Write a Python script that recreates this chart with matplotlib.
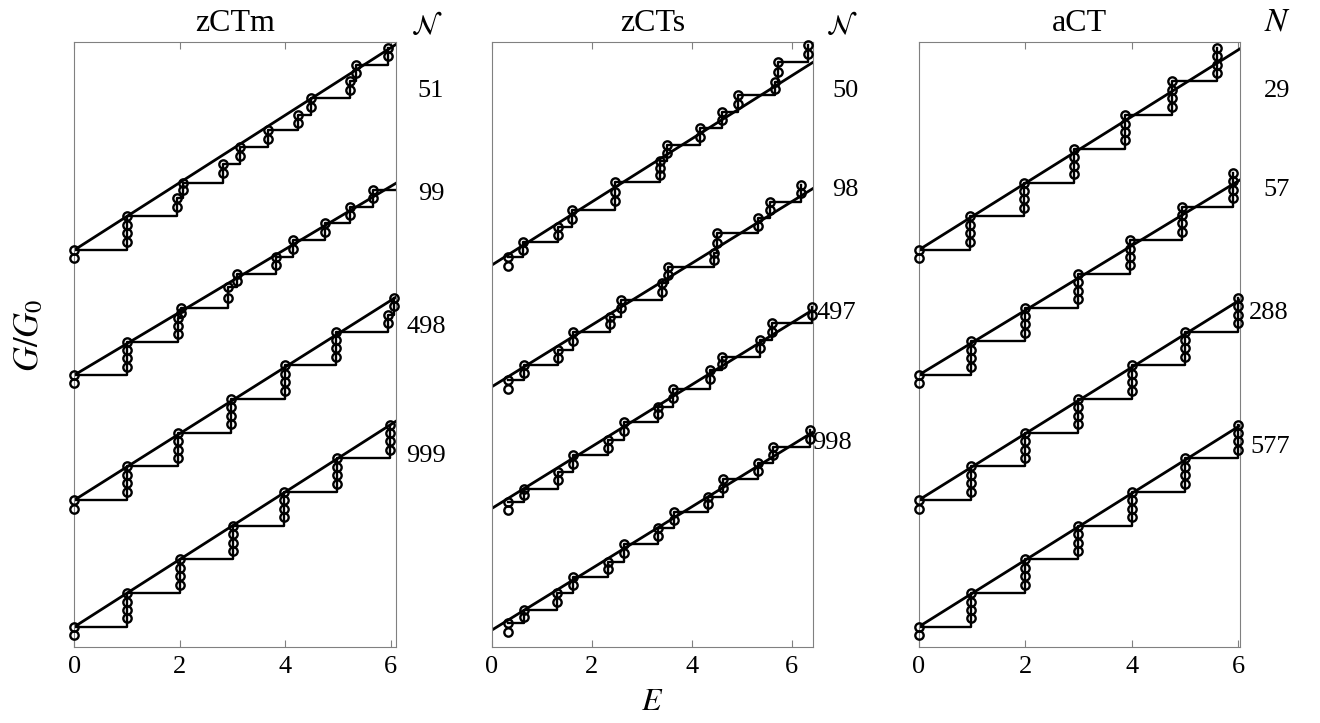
import numpy as np
import matplotlib
matplotlib.use('Agg')
import matplotlib.pyplot as plt

plt.rcParams['font.family'] = ['Liberation Serif', 'DejaVu Serif']
plt.rcParams['mathtext.fontset'] = 'stix'

# ---- data ----
titles = ['zCTm', 'zCTs', 'aCT']
n_symbols = [r'$\mathcal{N}$', r'$\mathcal{N}$', r'$N$']
xmax = [6.1, 6.43, 6.03]
g_start = [-0.5, -0.3, -0.5]          # level below the first riser

# zCTm
zctm_N = ['51', '99', '498', '999']
zctm_offset = [11.18, 7.47, 3.76, 0.0]
zctm_slope = [1.0, 0.933, 0.987, 1.0]
zctm_E = [
    [0, 0.99, 1.94, 2.06, 2.82, 3.14, 3.67, 4.24, 4.49, 5.22, 5.35, 5.95],
    [0, 0.99, 1.97, 2.03, 2.92, 3.08, 3.83, 4.15, 4.75, 5.22, 5.66],
    [0, 0.99, 1.97, 2.98, 3.99, 4.97, 5.95, 6.07],
    [0, 0.99, 2.0, 3.0, 3.98, 4.99, 5.98],
]
zctm_G = [
    [0, 1.0, 1.55, 2.0, 2.55, 3.05, 3.55, 4.0, 4.5, 5.0, 5.5, 6.0],
    [0, 0.99, 1.7, 2.0, 2.6, 3.0, 3.5, 4.0, 4.5, 5.0, 5.5],
    [0, 1.0, 2.0, 3.0, 4.0, 5.0, 5.5, 6.0],
    [0, 1.0, 2.0, 3.0, 4.0, 5.0, 6.0],
]
zctm_end = [5.95, 6.1, 6.07, 5.98]

# zCTs
zcts_N = ['50', '98', '497', '998']
zcts_offset = [10.73, 7.12, 3.51, -0.1]
zcts_slope = [0.937, 0.916, 0.918, 0.915]
zcts_E = [
    [0.33, 0.63, 1.33, 1.6, 2.47, 3.37, 3.5, 4.17, 4.6, 4.93, 5.67, 5.73, 6.33],
    [0.32, 0.65, 1.33, 1.63, 2.37, 2.59, 3.4, 3.52, 4.45, 4.5, 5.32, 5.57, 6.19],
    [0.32, 0.65, 1.32, 1.63, 2.33, 2.65, 3.33, 3.63, 4.37, 4.61, 5.37, 5.6, 6.41],
    [0.32, 0.65, 1.3, 1.63, 2.32, 2.65, 3.32, 3.65, 4.32, 4.63, 5.33, 5.63, 6.37],
]
zcts_G = [
    [0.24, 0.68, 1.13, 1.63, 2.46, 3.1, 3.56, 4.07, 4.54, 5.04, 5.43, 6.02, 6.53],
    [0.2, 0.64, 1.09, 1.63, 2.08, 2.57, 3.08, 3.56, 3.96, 4.56, 5.0, 5.49, 5.99],
    [0.2, 0.59, 1.09, 1.58, 2.03, 2.57, 3.02, 3.56, 4.1, 4.5, 5.0, 5.49, 5.98],
    [0.2, 0.59, 1.09, 1.58, 2.03, 2.57, 3.02, 3.51, 3.96, 4.5, 4.95, 5.44, 5.93],
]
zcts_end = [6.33, 6.19, 6.41, 6.37]

# aCT
act_N = ['29', '57', '288', '577']
act_offset = [11.18, 7.47, 3.76, 0.0]
act_slope = [0.99, 0.96, 0.985, 0.99]
act_E = [
    [0, 0.97, 1.98, 2.91, 3.87, 4.76, 5.59],
    [0, 0.99, 1.99, 2.99, 3.96, 4.95, 5.9],
    [0, 0.99, 1.99, 2.99, 4.0, 5.0, 6.0],
    [0, 0.99, 1.99, 2.99, 4.0, 5.0, 6.0],
]
act_G = [
    [0, 1, 2, 3, 4, 5, 6],
    [0, 1, 2, 3, 4, 5, 6],
    [0, 1, 2, 3, 4, 5, 6],
    [0, 1, 2, 3, 4, 5, 6],
]
act_end = [5.59, 5.9, 6.0, 6.0]

panels = [
    (zctm_N, zctm_offset, zctm_slope, zctm_E, zctm_G, zctm_end),
    (zcts_N, zcts_offset, zcts_slope, zcts_E, zcts_G, zcts_end),
    (act_N, act_offset, act_slope, act_E, act_G, act_end),
]

# label positions in pixels of the 1320x723 picture
n_label_xy = [(427, 26), (842, 26), (1277, 22)]
num_label_xy = [
    [(431, 91), (431, 194), (426, 327), (426, 456)],
    [(845, 91), (845, 190), (836, 313), (832, 443)],
    [(1277, 91), (1277, 190), (1269, 313), (1270, 447)],
]

W, H = 1320, 723
fig = plt.figure(figsize=(W / 100, H / 100), dpi=100)
lefts = [74.3, 491.7, 918.7]
widths = [321.7, 321.6, 321.3]


def riser_circles(lo, hi):
    n = max(2, int(round((hi - lo) / 0.25)))
    return hi - np.arange(n) * (hi - lo) / n


for p, (labels, offs, slopes, Es, Gs, ends) in enumerate(panels):
    ax = fig.add_axes([lefts[p] / W, 1 - 646.7 / H, widths[p] / W, 605 / H])
    for k in range(4):
        e = list(Es[k])
        g = np.array(Gs[k], dtype=float) + offs[k]
        # straight line
        ex = np.array([0, xmax[p]])
        ax.plot(ex, slopes[k] * ex + offs[k], color='black', lw=2.0, zorder=2)
        # staircase
        ax.step(e + [ends[k]], list(g) + [g[-1]], where='post',
                color='black', lw=1.7, zorder=2)
        # circles on each riser
        prev = g_start[p] + offs[k]
        for ei, gi in zip(e, g):
            ys = riser_circles(prev, gi)
            ax.plot(np.full(len(ys), ei), ys, 'o', mfc='none', mec='black',
                    ms=6, mew=1.7, zorder=3, clip_on=False)
            prev = gi

    ax.set_xlim(0, xmax[p])
    ax.set_ylim(-0.59, 17.36)
    ax.set_xticks([0, 2, 4, 6])
    ax.set_yticks([])
    ax.tick_params(axis='x', direction='in', top=True, bottom=True,
                   length=5, color='#808080', labelsize=19, pad=7)
    for sp in ax.spines.values():
        sp.set_color('#808080')
        sp.set_linewidth(0.8)
    ax.set_title(titles[p], fontsize=23, pad=8)

    nx, ny = n_label_xy[p]
    fig.text(nx / W, 1 - ny / H, n_symbols[p], fontsize=20 if p < 2 else 24,
             ha='center', va='center')
    for (tx, ty), lab in zip(num_label_xy[p], labels):
        fig.text(tx / W, 1 - ty / H, lab, fontsize=19, ha='center', va='center')

fig.text(30 / W, 1 - 335 / H, r'$G/G_0$', fontsize=25, rotation=90,
         ha='center', va='center')
fig.text(652 / W, 1 - 702 / H, r'$E$', fontsize=23, ha='center', va='center')

fig.savefig('out.png', dpi=100, facecolor='white')
